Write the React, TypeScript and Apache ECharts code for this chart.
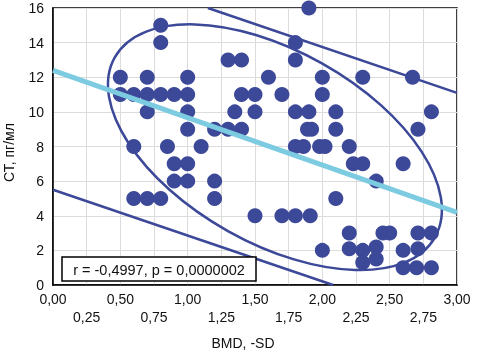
import React, { useEffect, useRef } from "react";
import * as echarts from "echarts";

// CT (pg/ml) vs BMD (-SD) observations
const ctVsBmd: [number, number][] = [
  [1.9, 16],
  [0.8, 15],
  [0.8, 14], [1.8, 14],
  [1.3, 13], [1.4, 13], [1.8, 13],
  [0.5, 12], [0.7, 12], [1.0, 12], [1.6, 12], [2.0, 12], [2.3, 12], [2.67, 12],
  [0.5, 11], [0.6, 11], [0.7, 11], [0.8, 11], [0.9, 11], [1.0, 11], [1.4, 11], [1.5, 11], [1.7, 11], [2.0, 11],
  [0.7, 10], [1.0, 10], [1.35, 10], [1.5, 10], [1.8, 10], [1.9, 10], [2.1, 10], [2.81, 10],
  [1.0, 9], [1.2, 9], [1.3, 9], [1.4, 9], [1.89, 9], [1.92, 9], [2.1, 9], [2.71, 9],
  [0.6, 8], [0.85, 8], [1.1, 8], [1.8, 8], [1.86, 8], [1.98, 8], [2.02, 8], [2.2, 8],
  [0.9, 7], [1.0, 7], [2.23, 7], [2.3, 7], [2.6, 7],
  [0.9, 6], [1.0, 6], [1.2, 6], [2.4, 6],
  [0.6, 5], [0.7, 5], [0.8, 5], [1.2, 5], [2.1, 5],
  [1.5, 4], [1.7, 4], [1.8, 4], [1.91, 4],
  [2.2, 3], [2.45, 3], [2.5, 3], [2.71, 3], [2.81, 3],
  [2.0, 2], [2.2, 2.1], [2.3, 2], [2.4, 2.2], [2.6, 2], [2.71, 2.1],
  [2.3, 1.3], [2.4, 1.5], [2.6, 1], [2.7, 1], [2.81, 1],
];

const regressionLine: [number, number][] = [[0, 12.4], [3, 4.2]];
const upperPredictionLine: [number, number][] = [[1.15, 16], [3, 11.1]];
const lowerPredictionLine: [number, number][] = [[0, 5.5], [2.08, 0]];

// confidence ellipse: centre (BMD, CT), semi-axes in BMD units, tilt in degrees
const ellipseCentre: [number, number] = [1.648, 7.96];
const ellipseSemiAxes: [number, number] = [1.364, 0.714];
const ellipseTiltDeg = 29.3;

const annotationText = "r = -0,4997, p = 0,0000002";
const xAxisTitle = "BMD, -SD";
const yAxisTitle = "СТ, пг/мл";

const DARK = "#3c4898";
const LIGHT = "#7ccbe0";
const FONT = "'Liberation Sans', Arial, sans-serif";

export default function App() {
  const ref = useRef<HTMLDivElement>(null);

  useEffect(() => {
    if (!ref.current) return;
    const chart = echarts.init(ref.current, undefined, { renderer: "svg" });
    chart.setOption({
      animation: false,
      textStyle: { fontFamily: FONT },
      grid: {
        left: 53,
        right: 21,
        top: 8,
        bottom: 69,
        show: true,
        borderColor: "#000",
        borderWidth: 1.5,
        backgroundColor: "#fff",
      },
      xAxis: {
        type: "value",
        min: 0,
        max: 3,
        interval: 0.25,
        axisLine: { show: true, lineStyle: { color: "#000", width: 1.5 } },
        axisTick: { show: false },
        splitLine: { show: true, lineStyle: { color: "#dcdcdc", width: 1 } },
        axisLabel: {
          margin: 5,
          fontSize: 14,
          lineHeight: 18,
          color: "#111",
          fontFamily: FONT,
          formatter: (v: number) => {
            const s = v.toFixed(2).replace(".", ",");
            return Math.round(v * 4) % 2 === 0 ? s : "\n" + s;
          },
        },
      },
      yAxis: {
        type: "value",
        min: 0,
        max: 16,
        interval: 2,
        axisLine: { show: true, lineStyle: { color: "#000", width: 1.5 } },
        axisTick: { show: false },
        splitLine: { show: true, lineStyle: { color: "#dcdcdc", width: 1 } },
        axisLabel: { margin: 9, fontSize: 14, color: "#111", fontFamily: FONT },
      },
      series: [
        {
          type: "scatter",
          data: ctVsBmd,
          symbol: "circle",
          symbolSize: 15,
          clip: false,
          itemStyle: { color: DARK, opacity: 1 },
          z: 2,
        },
        {
          type: "custom",
          data: [ellipseCentre],
          z: 3,
          silent: true,
          renderItem: (params: any, api: any) => {
            const c = api.coord([api.value(0), api.value(1)]);
            const unit = api.size([1, 1]);
            return {
              type: "ellipse",
              x: c[0],
              y: c[1],
              rotation: (-ellipseTiltDeg * Math.PI) / 180,
              shape: {
                cx: 0,
                cy: 0,
                rx: ellipseSemiAxes[0] * unit[0],
                ry: ellipseSemiAxes[1] * unit[0],
              },
              style: { fill: "none", stroke: DARK, lineWidth: 2.5 },
            };
          },
        },
        {
          type: "line",
          data: upperPredictionLine,
          symbol: "none",
          lineStyle: { color: DARK, width: 2.5 },
          z: 3,
        },
        {
          type: "line",
          data: lowerPredictionLine,
          symbol: "none",
          lineStyle: { color: DARK, width: 2.5 },
          z: 3,
        },
        {
          type: "line",
          data: regressionLine,
          symbol: "none",
          lineStyle: { color: LIGHT, width: 5 },
          z: 4,
        },
      ],
      graphic: [
        {
          type: "rect",
          shape: { x: 62, y: 257, width: 194, height: 24 },
          style: { fill: "#fff", stroke: "#000", lineWidth: 1.5 },
          z: 100,
        },
        {
          type: "text",
          x: 159,
          y: 269.5,
          style: {
            text: annotationText,
            fontSize: 14.5,
            fontFamily: FONT,
            fill: "#111",
            align: "center",
            verticalAlign: "middle",
          },
          z: 101,
        },
        {
          type: "text",
          x: 243,
          y: 343,
          style: {
            text: xAxisTitle,
            fontSize: 14,
            fontFamily: FONT,
            fill: "#111",
            align: "center",
            verticalAlign: "middle",
          },
        },
        {
          type: "text",
          x: 9,
          y: 152.5,
          rotation: Math.PI / 2,
          style: {
            text: yAxisTitle,
            fontSize: 14,
            fontFamily: FONT,
            fill: "#111",
            align: "center",
            verticalAlign: "middle",
          },
        },
      ],
    });
    return () => chart.dispose();
  }, []);

  return (
    <div
      ref={ref}
      style={{ position: "fixed", left: 0, top: 0, width: 478, height: 354 }}
    />
  );
}
